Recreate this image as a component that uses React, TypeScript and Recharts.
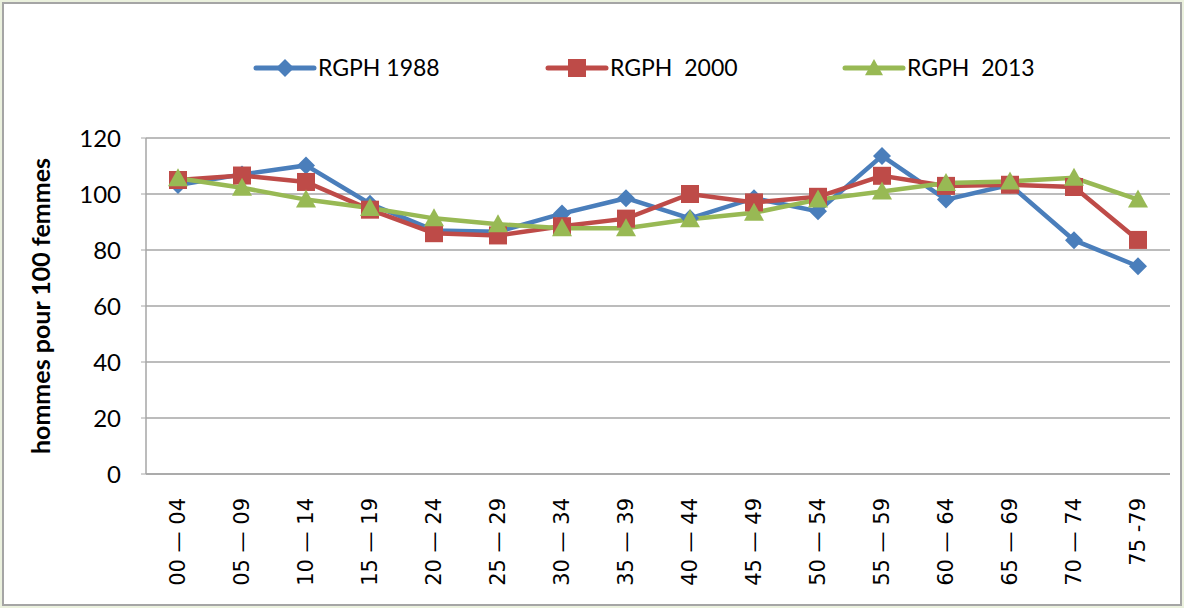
import React from "react";
import { LineChart, Line, XAxis, YAxis, CartesianGrid, Legend } from "recharts";

const ageGroups = [
  "00 — 04", "05 — 09", "10 — 14", "15 — 19", "20 — 24", "25 — 29", "30 — 34", "35 — 39",
  "40 — 44", "45 — 49", "50 — 54", "55 — 59", "60 — 64", "65 — 69", "70 — 74", "75 -79",
];
const rgph1988 = [103.2, 107, 110.2, 96.5, 87, 86.5, 93, 98.5, 91.3, 98.5, 93.8, 113.6, 98, 103.3, 83.5, 74.2];
const rgph2000 = [105, 106.6, 104.3, 94.4, 86, 85.2, 88.5, 91.2, 100, 97, 99, 106.5, 102.9, 103.3, 102.5, 83.6];
const rgph2013 = [105.6, 102.2, 98, 95, 91.3, 89.2, 87.8, 87.8, 91, 93.3, 98, 100.9, 103.9, 104.5, 105.8, 98];
const yTicks = [0, 20, 40, 60, 80, 100, 120];

const seriesNames = ["RGPH 1988", "RGPH  2000", "RGPH  2013"];
const BLUE = "#4a7ebb";
const RED = "#be4b48";
const GREEN = "#98b954";
const FONT = "Lato, 'Open Sans', sans-serif";

const data = ageGroups.map((g, i) => ({
  group: g,
  a: rgph1988[i],
  b: rgph2000[i],
  c: rgph2013[i],
}));

function Diamond({ cx, cy, fill, r = 8 }: any) {
  if (cx == null || cy == null) return null;
  return <path d={`M${cx},${cy - r} L${cx + r},${cy} L${cx},${cy + r} L${cx - r},${cy} Z`} fill={fill} />;
}
function Square({ cx, cy, fill, r = 8 }: any) {
  if (cx == null || cy == null) return null;
  return <rect x={cx - r} y={cy - r} width={r * 2} height={r * 2} fill={fill} />;
}
function Triangle({ cx, cy, fill, r = 9 }: any) {
  if (cx == null || cy == null) return null;
  return <path d={`M${cx},${cy - r} L${cx + r},${cy + r * 0.8} L${cx - r},${cy + r * 0.8} Z`} fill={fill} />;
}

const markers = [Diamond, Square, Triangle];
const colors = [BLUE, RED, GREEN];
const legendX = [256, 548, 845];

function LegendBox() {
  return (
    <svg width={1184} height={40} style={{ display: "block" }}>
      {seriesNames.map((name, i) => {
        const M = markers[i];
        const x0 = legendX[i];
        return (
          <g key={name}>
            <line x1={x0} y1={20} x2={x0 + 58} y2={20} stroke={colors[i]} strokeWidth={5} strokeLinecap="round" />
            <M cx={x0 + 29} cy={20} fill={colors[i]} r={9} />
            <text
              x={x0 + 62}
              y={20}
              dy="0.36em"
              fontFamily={FONT}
              fontSize={23}
              fill="#000"
              style={{ whiteSpace: "pre" }}
            >
              {name}
            </text>
          </g>
        );
      })}
    </svg>
  );
}

function XTick({ x, y, payload }: any) {
  return (
    <text
      transform={`translate(${x + 7},${y + 16}) rotate(-90)`}
      textAnchor="end"
      fontFamily="'DejaVu Sans', sans-serif"
      fontSize={21}
      fill="#000"
      style={{ whiteSpace: "pre" }}
    >
      {payload.value}
    </text>
  );
}

export default function App() {
  return (
    <div style={{ position: "absolute", left: 0, top: 0, width: 1184, height: 608, background: "#ebf1de" }}>
      <div
        style={{
          position: "absolute",
          left: 2,
          top: 2,
          width: 1176,
          height: 600,
          border: "2px solid #a5a5a5",
          background: "#fff",
        }}
      />
      <div style={{ position: "absolute", left: 0, top: 0 }}>
        <LineChart width={1184} height={608} data={data} margin={{ top: 98, right: 14, left: 0, bottom: 0 }}>
          <Legend
            verticalAlign="top"
            height={40}
            wrapperStyle={{ top: 48, left: 0, width: 1184 }}
            content={() => <LegendBox />}
          />
          <CartesianGrid vertical={false} stroke="#a6a6a6" strokeWidth={1.5} />
          <XAxis
            dataKey="group"
            interval={0}
            height={134}
            padding={{ left: 32, right: 32 }}
            tick={<XTick />}
            tickLine={false}
            axisLine={{ stroke: "#a6a6a6", strokeWidth: 1.5 }}
          />
          <YAxis
            width={146}
            domain={[0, 120]}
            ticks={yTicks}
            tickSize={5}
            tickMargin={20}
            tickLine={{ stroke: "#a6a6a6" }}
            axisLine={{ stroke: "#a6a6a6", strokeWidth: 1.5 }}
            tick={{ fontFamily: FONT, fontSize: 24, fill: "#000" }}
            label={{
              value: "hommes pour 100 femmes",
              angle: -90,
              position: "insideLeft",
              offset: 41,
              style: { fontFamily: FONT, fontSize: 25, fontWeight: "bold", fill: "#000", textAnchor: "middle" },
            }}
          />
          <Line
            dataKey="a"
            stroke={BLUE}
            strokeWidth={4.5}
            isAnimationActive={false}
            dot={(p: any) => <Diamond key={`a${p.index}`} cx={p.cx} cy={p.cy} fill={BLUE} r={9} />}
            activeDot={false}
          />
          <Line
            dataKey="b"
            stroke={RED}
            strokeWidth={4.5}
            isAnimationActive={false}
            dot={(p: any) => <Square key={`b${p.index}`} cx={p.cx} cy={p.cy} fill={RED} r={9} />}
            activeDot={false}
          />
          <Line
            dataKey="c"
            stroke={GREEN}
            strokeWidth={4.5}
            isAnimationActive={false}
            dot={(p: any) => <Triangle key={`c${p.index}`} cx={p.cx} cy={p.cy} fill={GREEN} r={10} />}
            activeDot={false}
          />
        </LineChart>
      </div>
    </div>
  );
}
